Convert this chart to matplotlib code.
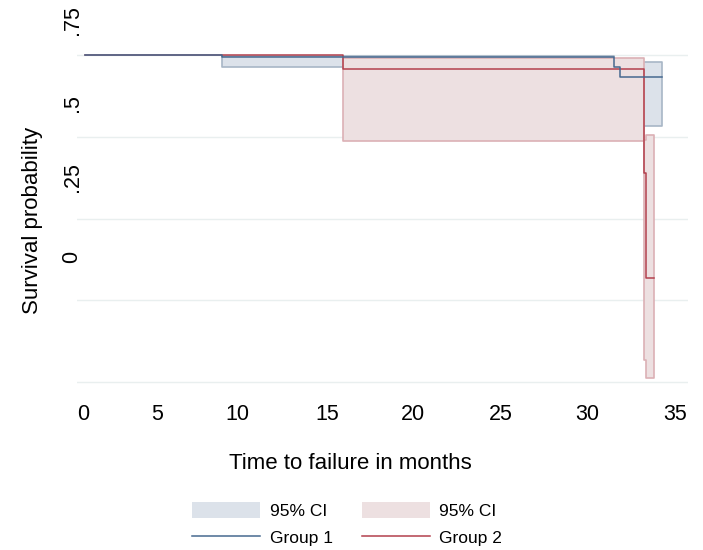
import numpy as np
import matplotlib
matplotlib.use("Agg")
import matplotlib.pyplot as plt
from matplotlib.patches import Patch
from matplotlib.lines import Line2D

plt.rcParams['font.family'] = ['Liberation Sans', 'DejaVu Sans']

# Group 1 (blue) Kaplan-Meier step function and 95% CI
g1_t = [0, 8.13, 31.38, 31.74, 34.23]
g1_s = [1.0, 0.994, 0.966, 0.934, 0.934]
g1_ci_t = [8.13, 31.38, 31.74, 34.23]
g1_lo = [0.964, 0.90, 0.785, 0.785]
g1_hi = [0.998, 0.99, 0.981, 0.981]

# Group 2 (red)
g2_t = [0, 15.31, 33.16, 33.28, 33.75]
g2_s = [1.0, 0.958, 0.64, 0.318, 0.318]
g2_ci_t = [15.31, 33.16, 33.28, 33.75]
g2_lo = [0.738, 0.067, 0.012, 0.012]
g2_hi = [0.991, 0.74, 0.756, 0.756]

x_ticks = [-0.12, 4.27, 9.07, 14.35, 19.45, 24.67, 29.77, 34.99]
x_labels = ['0', '5', '10', '15', '20', '25', '30', '35']
y_ticks = [0.383, 0.628, 0.855, 1.109]
y_labels = ['0', '.25', '.5', '.75']
y_grid = [0, 0.25, 0.5, 0.75, 1]

blue = '#46698f'
red = '#b3404d'
blue_fill = '#dce2ea'
red_fill = '#ede0e1'

fig = plt.figure(figsize=(7.03, 5.5), dpi=100)
ax = fig.add_axes([0.1095, 0.2873, 0.869, 0.698])

ax.fill_between(g1_ci_t, g1_lo, g1_hi, step='post', facecolor=blue_fill,
                edgecolor='#a8b6c6', linewidth=1.2, zorder=2)
ax.fill_between(g2_ci_t, g2_lo, g2_hi, step='post', facecolor=red_fill,
                edgecolor='#dbb0b5', linewidth=1.2, zorder=3)
ax.step(g1_t, g1_s, where='post', color=blue, linewidth=1.1, zorder=5)
ax.step(g2_t, g2_s, where='post', color=red, linewidth=1.1, zorder=4)

ax.set_xlim(-0.47, 35.77)
ax.set_ylim(-0.031, 1.145)

ax.set_xticks(x_ticks)
ax.set_xticklabels(x_labels, fontsize=15.5)
ax.set_yticks(y_ticks)
ax.set_yticklabels(y_labels, fontsize=15.5, rotation=90, va='center')
ax.set_yticks(y_grid, minor=True)
ax.tick_params(axis='both', which='both', length=0)
ax.tick_params(axis='x', pad=9)
ax.tick_params(axis='y', pad=-4)
ax.grid(True, axis='y', which='minor', color='#e9efef', linewidth=1.0, zorder=0)
ax.grid(False, axis='y', which='major')
ax.set_axisbelow(True)
for sp in ax.spines.values():
    sp.set_visible(False)

ax.set_xlabel('Time to failure in months', fontsize=16)
ax.xaxis.set_label_coords(0.447, -0.16)
ax.set_ylabel('Survival probability', fontsize=16)
ax.yaxis.set_label_coords(-0.055, 0.448)

handles = [Patch(facecolor=blue_fill, edgecolor='none'),
           Line2D([], [], color=blue, linewidth=1.1),
           Patch(facecolor=red_fill, edgecolor='none'),
           Line2D([], [], color=red, linewidth=1.1)]
labels = ['95% CI', 'Group 1', '95% CI', 'Group 2']
fig.legend(handles, labels, ncol=2, loc='center', bbox_to_anchor=(0.494, 0.047),
           frameon=False, fontsize=12.5, handlelength=3.9, handleheight=1.0,
           columnspacing=1.7, labelspacing=0.6, handletextpad=0.55)

fig.savefig('out.png', dpi=100)
